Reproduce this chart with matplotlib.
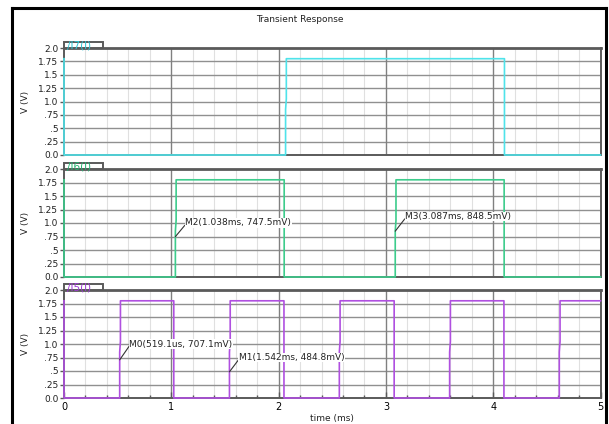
import matplotlib
matplotlib.use("Agg")
import matplotlib.pyplot as plt
import numpy as np
from matplotlib.lines import Line2D
from matplotlib.patches import Rectangle

# edge times (ms) of the three divider outputs, high level in V
v_high = 1.8
names = ["/I7(I)", "/I6(I)", "/I5(I)"]
colors = ["#4fe3ea", "#3dcc8c", "#b050e0"]
name_colors = ["#2cc6d4", "#22b36f", "#a03ad6"]
rises = [[2.065], [1.038, 3.087], [0.519, 1.542, 2.566, 3.594, 4.616]]
falls = [[4.105], [2.052, 4.102], [1.023, 2.050, 3.077, 4.100]]

# cursor markers: panel index, time (ms), voltage (mV), label position
mark_names = ["M0", "M1", "M2", "M3"]
mark_panel = [2, 2, 1, 1]
mark_t = [0.5191, 1.542, 1.038, 3.087]
mark_mv = [707.1, 484.8, 747.5, 848.5]
mark_units = ["us", "ms", "ms", "ms"]
mark_text_xy = [(0.61, 1.0), (1.63, 0.75), (1.13, 1.0), (3.18, 1.12)]

ytick_vals = [0.0, 0.25, 0.5, 0.75, 1.0, 1.25, 1.5, 1.75, 2.0]
ytick_labels = ["0.0", ".25", ".5", ".75", "1.0", "1.25", "1.5", "1.75", "2.0"]


def square_wave(r_list, f_list, hi):
    # starts high at t=0 and drops straight away
    t = [0.0, 0.0]
    v = [hi, 0.0]
    edges = sorted([(x, 1) for x in r_list] + [(x, 0) for x in f_list])
    for x, up in edges:
        if up:
            t += [x, x, x + 0.007, x + 0.007]
            v += [0.0, 0.85, 1.05, hi]
        else:
            t += [x, x]
            v += [hi, 0.0]
    t.append(5.0)
    v.append(v[-1])
    return np.array(t), np.array(v)


W, H = 609, 424
fig = plt.figure(figsize=(W / 100, H / 100), dpi=100)
fs = 6.5
frame_col = "#5a5a5a"

panel_px = [(48, 155), (169, 277), (290, 398)]
axes = []
for i, (top, bot) in enumerate(panel_px):
    ax = fig.add_axes([64 / W, 1 - bot / H, (600.5 - 64) / W, (bot - top) / H])
    axes.append(ax)
    t, v = square_wave(rises[i], falls[i], v_high)
    ax.plot(t, v, color=colors[i], lw=1.2, zorder=3, clip_on=False)

    ax.set_xlim(0, 5)
    ax.set_ylim(0, 2.0)
    ax.set_yticks(ytick_vals)
    ax.set_yticklabels(ytick_labels, fontsize=fs, color="#222222")
    ax.set_xticks(np.arange(0, 5.01, 1))
    ax.set_xticks(np.arange(0, 5.01, 0.2), minor=True)

    # grid: light minor verticals, darker majors, horizontals every .25
    for x in np.arange(0.2, 5.0, 0.2):
        if abs(x - round(x)) > 1e-6:
            ax.axvline(x, color="#e0e0e0", lw=0.8, zorder=1)
    for x in range(1, 5):
        ax.axvline(x, color="#808080", lw=1.0, zorder=1.5)
    for y in ytick_vals[1:-1]:
        ax.axhline(y, color="#909090", lw=1.0, zorder=1.2)

    for s in ax.spines.values():
        s.set_color(frame_col)
        s.set_linewidth(1.4)
    ax.spines["top"].set_linewidth(2.0)
    ax.tick_params(axis="y", direction="out", length=3, width=1,
                   color=frame_col, pad=1)
    ax.set_ylabel("V (V)", fontsize=fs, labelpad=3, color="#222222")

    # name tab sitting on top of the panel
    tab = Rectangle((0, 1.0), 0.072, 0.052, transform=ax.transAxes,
                    fc="white", ec=frame_col, lw=1.4, clip_on=False, zorder=4)
    ax.add_patch(tab)
    ax.text(0.006, 1.022, names[i], transform=ax.transAxes, fontsize=7.5,
            color=name_colors[i], va="center", ha="left", zorder=5,
            clip_on=False)

    if i < 2:
        ax.tick_params(axis="x", which="both", length=0, labelbottom=False)
    else:
        ax.tick_params(axis="x", which="major", direction="in", length=4,
                       width=1, color=frame_col, labelsize=fs + 0.5, pad=3)
        ax.tick_params(axis="x", which="minor", direction="in", length=2.5,
                       width=1, color=frame_col)
        ax.set_xlabel("time (ms)", fontsize=fs, labelpad=1, color="#222222")

for ax in axes:
    ax.yaxis.set_label_coords(-0.064, 0.5)

for name, p, mt, mv, unit, (tx, ty) in zip(mark_names, mark_panel, mark_t,
                                           mark_mv, mark_units, mark_text_xy):
    tval = mt * 1000 if unit == "us" else mt
    label = f"{name}({tval:.1f}{unit}, {mv:.1f}mV)" if unit == "us" \
        else f"{name}({tval:.3f}{unit}, {mv:.1f}mV)"
    axes[p].annotate(label, xy=(mt, mv / 1000), xytext=(tx, ty),
                     fontsize=fs, color="#222222", ha="left", va="center",
                     bbox=dict(boxstyle="square,pad=0.05", fc="white", ec="none"),
                     arrowprops=dict(arrowstyle="-", color="#333333", lw=0.8,
                                     shrinkA=0, shrinkB=0, relpos=(0, 0.3)),
                     zorder=6)

fig.text(300 / W, 1 - 19 / H, "Transient Response", fontsize=fs,
         ha="center", va="center", color="#222222")

# outer window border
bc = "black"
fig.add_artist(Line2D([12 / W, 12 / W], [0, 1 - 8 / H], transform=fig.transFigure,
                      color=bc, lw=2.2))
fig.add_artist(Line2D([12 / W, 606 / W], [1 - 8 / H, 1 - 8 / H],
                      transform=fig.transFigure, color=bc, lw=2.2))
fig.add_artist(Line2D([606 / W, 606 / W], [0, 1 - 8 / H], transform=fig.transFigure,
                      color=bc, lw=2.2))

fig.savefig("out.png", dpi=100)
